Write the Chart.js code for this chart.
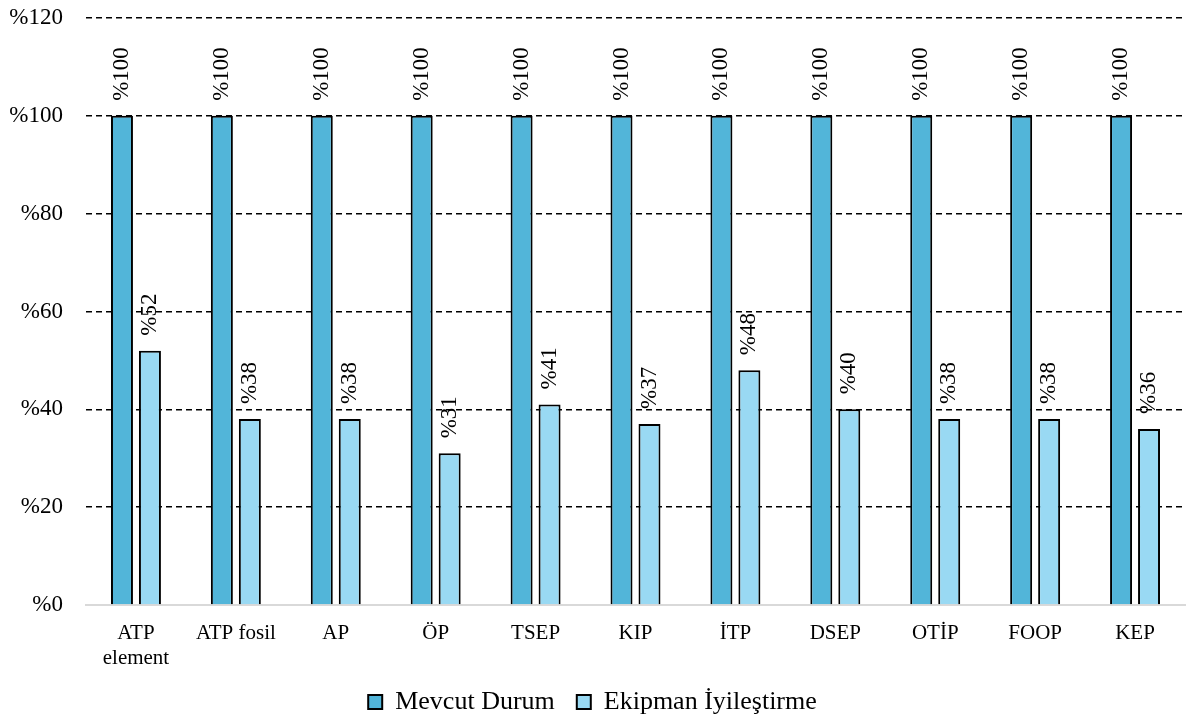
<!DOCTYPE html>
<html>
<head>
<meta charset="utf-8">
<script src="https://cdn.jsdelivr.net/npm/chart.js@4"></script>
<style>
  html, body { margin: 0; padding: 0; background: #fff; }
  #wrap { width: 1192px; height: 725px; }
</style>
</head>
<body>
<div id="wrap"><canvas id="bar-chart" width="1192" height="725"></canvas></div>
<script>
// kategoriler ve seriler
const categories = [['ATP', 'element'], 'ATP fosil', 'AP', 'ÖP', 'TSEP', 'KIP', 'İTP', 'DSEP', 'OTİP', 'FOOP', 'KEP'];
const mevcutDurum = [100, 100, 100, 100, 100, 100, 100, 100, 100, 100, 100];
const ekipmanIyilestirme = [52, 38, 38, 31, 41, 37, 48, 40, 38, 38, 36];
const yTicks = [0, 20, 40, 60, 80, 100, 120];

const serif = "'Times New Roman', 'Liberation Serif', serif";

// çubuk üstü dikey etiketler
const verticalLabels = {
    id: 'verticalLabels',
    afterDatasetsDraw(chart) {
        const ctx = chart.ctx;
        ctx.save();
        ctx.fillStyle = '#000';
        ctx.font = '23px ' + serif;
        ctx.textAlign = 'left';
        ctx.textBaseline = 'middle';
        chart.data.datasets.forEach((ds, i) => {
            chart.getDatasetMeta(i).data.forEach((bar, j) => {
                ctx.save();
                ctx.translate(bar.x, bar.y - 15);
                ctx.rotate(-Math.PI / 2);
                ctx.fillText('%' + ds.data[j], 0, 0);
                ctx.restore();
            });
        });
        ctx.restore();
    }
};

const ctxBar = document.getElementById('bar-chart').getContext('2d');
new Chart(ctxBar, {
    type: 'bar',
    data: {
        labels: categories,
        datasets: [{
            label: 'Mevcut Durum',
            data: mevcutDurum,
            backgroundColor: '#52B5D9',
            borderColor: '#000',
            borderWidth: 2
        }, {
            label: 'Ekipman İyileştirme',
            data: ekipmanIyilestirme,
            backgroundColor: '#99D9F3',
            borderColor: '#000',
            borderWidth: 2
        }]
    },
    options: {
        responsive: false,
        animation: false,
        layout: { padding: { top: 18, right: 7, left: 0, bottom: 0 } },
        datasets: {
            bar: { categoryPercentage: 0.56, barPercentage: 0.786 }
        },
        scales: {
            x: {
                grid: { display: false },
                border: { display: true, color: '#d9d9d9', width: 2 },
                ticks: {
                    color: '#000',
                    font: { family: serif, size: 21 },
                    padding: 8,
                    maxRotation: 0,
                    autoSkip: false
                },
                afterFit: (scale) => { scale.height = 62; }
            },
            y: {
                min: 0,
                max: 120,
                afterBuildTicks: (scale) => { scale.ticks = yTicks.map(v => ({ value: v })); },
                grid: {
                    drawTicks: false,
                    color: (c) => c.tick && c.tick.value === 0 ? 'rgba(0,0,0,0)' : '#000',
                    lineWidth: 1.5
                },
                border: { display: false, dash: [6, 4] },
                ticks: {
                    color: '#000',
                    font: { family: serif, size: 23 },
                    padding: 23,
                    callback: (v) => '%' + v
                },
                afterFit: (scale) => {
                    scale.width = 86;
                    scale.paddingTop = 0;
                    scale.paddingBottom = 0;
                }
            }
        },
        plugins: {
            legend: {
                position: 'bottom',
                labels: {
                    color: '#000',
                    font: { family: serif, size: 26 },
                    boxWidth: 14,
                    boxHeight: 14,
                    padding: 22
                }
            },
            tooltip: { enabled: false }
        }
    },
    plugins: [verticalLabels]
});
</script>
</body>
</html>
